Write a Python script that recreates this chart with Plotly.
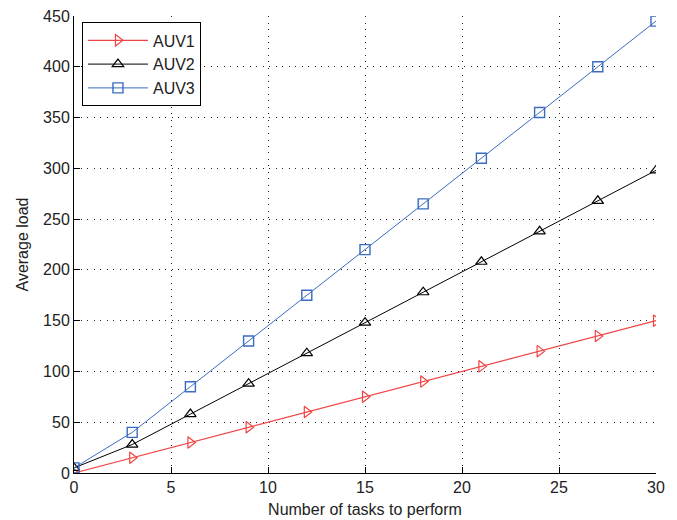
import plotly.graph_objects as go

tasks = [0, 3, 6, 9, 12, 15, 18, 21, 24, 27, 30]
auv1 = [0, 15, 30, 45, 60, 75, 90, 105, 120, 135, 150]
auv2 = [5, 28, 58, 88, 118, 148, 178, 208, 238, 268, 298]
auv3 = [5, 40, 85, 130, 175, 220, 265, 310, 355, 400, 445]

fig = go.Figure()
fig.add_trace(go.Scatter(x=tasks, y=auv1, name="AUV1", mode="lines+markers",
                         line=dict(color="#f04444", width=1.2),
                         marker=dict(symbol="triangle-right-open", size=10, color="#f04444", line=dict(width=1.2))))
fig.add_trace(go.Scatter(x=tasks, y=auv2, name="AUV2", mode="lines+markers",
                         line=dict(color="#000000", width=1),
                         marker=dict(symbol="triangle-up-open", size=10, color="#000000", line=dict(width=1.2))))
fig.add_trace(go.Scatter(x=tasks, y=auv3, name="AUV3", mode="lines+markers",
                         line=dict(color="#3a6cc0", width=1),
                         marker=dict(symbol="square-open", size=10, color="#3a6cc0", line=dict(width=1.4))))

axis_common = dict(showline=True, linecolor="black", linewidth=1,
                   ticks="inside", ticklen=6, tickcolor="black",
                   showgrid=True, gridcolor="#222222", griddash="1px,5.5px", gridwidth=1,
                   zeroline=False, mirror=False, automargin=False,
                   tickfont=dict(family="Liberation Sans, Arial", size=16, color="#222"))

fig.update_layout(
    width=677, height=520,
    margin=dict(l=74, r=21, t=15.5, b=47, autoexpand=False),
    paper_bgcolor="white", plot_bgcolor="white",
    font=dict(family="Liberation Sans, Arial", size=16, color="#222"),
    xaxis=dict(range=[0, 30], tickvals=[0, 5, 10, 15, 20, 25, 30],
               title=dict(text="Number of tasks to perform", standoff=8, font=dict(size=16)),
               **axis_common),
    yaxis=dict(range=[0, 450], tickvals=list(range(0, 451, 50)),
               title=dict(text="Average load", standoff=10, font=dict(size=16)),
               **axis_common),
    legend=dict(x=0.0137, y=0.986, xanchor="left", yanchor="top",
                bordercolor="black", borderwidth=1, bgcolor="white",
                font=dict(size=16), tracegroupgap=0, itemwidth=60),
    showlegend=True,
)

fig.write_html("out.html", config={"displayModeBar": False},
               post_script="document.body.style.margin='0';document.body.style.overflow='hidden';")
